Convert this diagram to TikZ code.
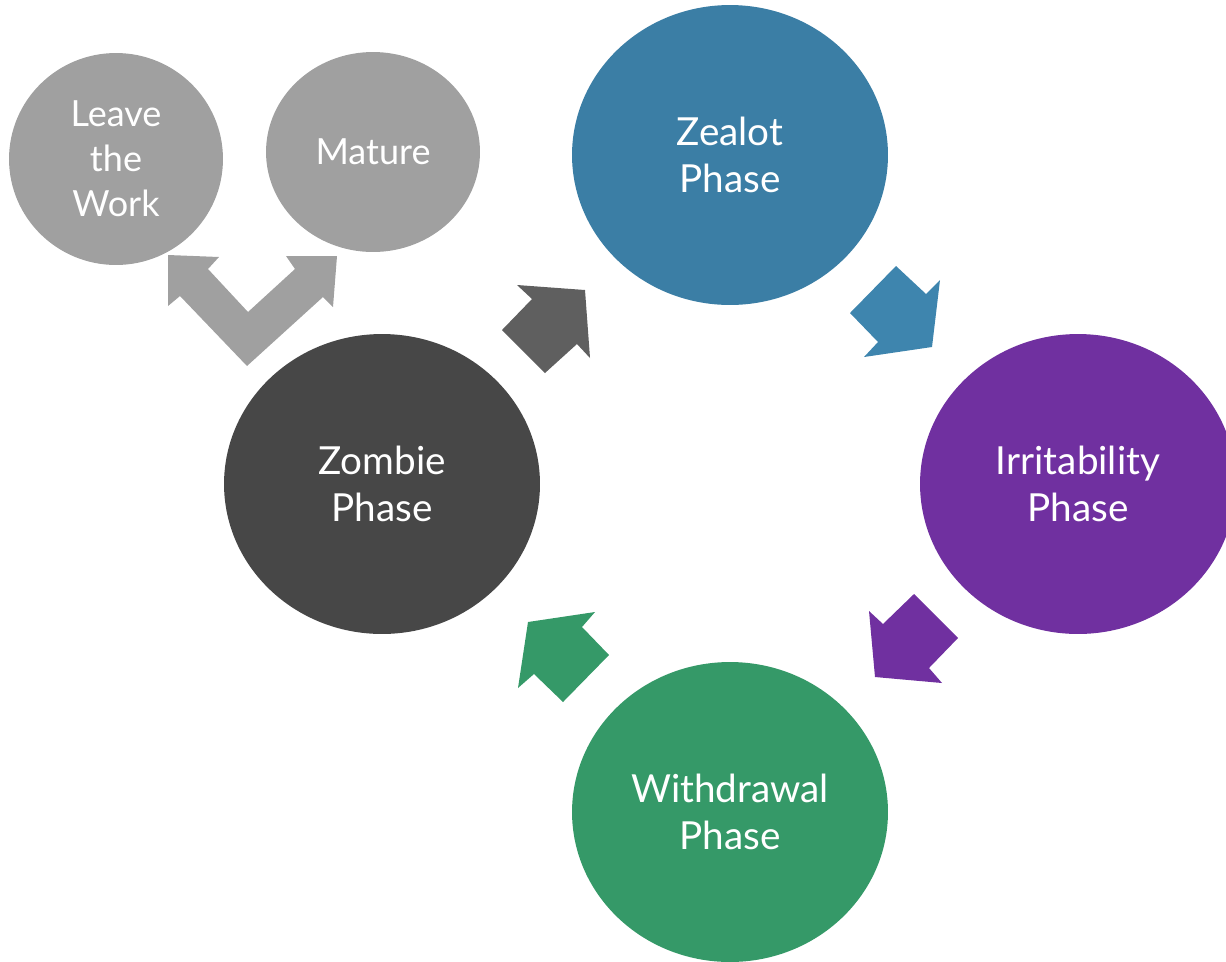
\documentclass[tikz,border=0pt]{standalone}
\usepackage{fontspec}
\setmainfont{Lato}
\usetikzlibrary{shapes.geometric}
\definecolor{zealot}{RGB}{59,126,165}
\definecolor{zealotarrow}{RGB}{62,133,174}
\definecolor{irrit}{RGB}{112,48,160}
\definecolor{withdraw}{RGB}{53,153,104}
\definecolor{zombie}{RGB}{71,71,71}
\definecolor{zombiearrow}{RGB}{95,95,95}
\definecolor{outcome}{RGB}{160,160,160}
\tikzset{
  phase/.style={ellipse, inner sep=0pt, minimum width=6.32cm, minimum height=6cm,
    text=white, align=center, font=\fontsize{22}{26.5}\selectfont},
  endpoint/.style={ellipse, inner sep=0pt, minimum width=4.28cm, text=white,
    align=center, font=\fontsize{20.5}{25.5}\selectfont}
}
\begin{document}
\begin{tikzpicture}[x=0.02cm,y=-0.02cm]
\useasboundingbox (0,0) rectangle (1226,961);
% phases of the cycle
\node[phase, fill=zealot] (zealot) at (730,155) {Zealot\\Phase};
\node[phase, fill=irrit] (irrit) at (1078,484) {Irritability\\Phase};
\node[phase, fill=withdraw] (withdraw) at (730,812) {Withdrawal\\Phase};
\node[phase, fill=zombie] (zombie) at (382,484) {Zombie\\Phase};
% ways out
\node[endpoint, fill=outcome, minimum height=4.24cm] (leave) at (116,159) {Leave\\the\\Work};
\node[endpoint, fill=outcome, minimum height=4cm] (mature) at (373,152) {Mature};
% block arrows
\fill[zombiearrow] (517,285) -- (585,290) -- (590,358) -- (577,344) -- (545,373) -- (502,330) -- (532,299) -- cycle;
\fill[zealotarrow] (896,266) -- (926,294) -- (940,280) -- (932,347) -- (864,357) -- (878,342) -- (850,313) -- cycle;
\fill[irrit] (914,594) -- (958,638) -- (929,668) -- (942,683) -- (875,677) -- (869,611) -- (883,624) -- cycle;
\fill[withdraw] (595,612) -- (582,627) -- (609,655) -- (563,702) -- (534,674) -- (518,688) -- (528,622) -- cycle;
\fill[outcome] (168,255) -- (219,257) -- (208,269) -- (248,312) -- (295,269) -- (286,256) -- (337,256)
  -- (333,307) -- (323,297) -- (247,366) -- (180,296) -- (168,306) -- cycle;
\end{tikzpicture}
\end{document}
